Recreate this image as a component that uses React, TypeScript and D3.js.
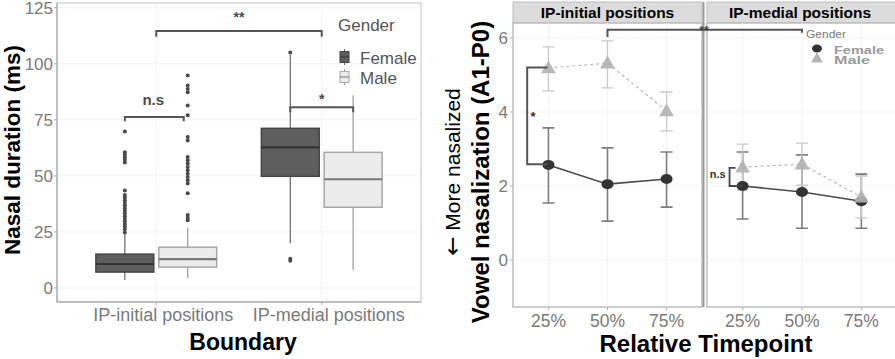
import React, { useEffect, useRef } from "react";
import * as d3 from "d3";

// ---- left panel: nasal duration boxplots ----
const boundaries = ["IP-initial positions", "IP-medial positions"];
const genders = ["Female", "Male"];
const durationTicks = [0, 25, 50, 75, 100, 125];

type Box = { lower: number; q1: number; median: number; q3: number; upper: number };

const femaleBoxes: Box[] = [
  { lower: 3.6, q1: 7.1, median: 10.7, q3: 15.1, upper: 24 },
  { lower: 20, q1: 49.8, median: 62.7, q3: 71.2, upper: 104 },
];
const maleBoxes: Box[] = [
  { lower: 4.4, q1: 9.3, median: 12.9, q3: 18.2, upper: 27 },
  { lower: 8, q1: 36, median: 48.5, q3: 60.5, upper: 86 },
];
const femaleOutliers = [
  [24.8, 26.2, 27.4, 28.5, 29.6, 30.8, 32, 33.2, 34.4, 35.6, 36.8, 37.9, 39.1, 40.3, 41.5, 43.5, 56, 57.2, 58.3, 59.4, 60.5, 69.8],
  [12.2, 13, 105],
];
const maleOutliers = [
  [30.2, 31.3, 32.5, 42.2, 46.6, 48, 49.5, 51, 52.5, 54, 55.5, 57, 58.4, 65.8, 67.3, 77, 81.4, 87.3, 88.8, 90.3, 94.8],
  [],
];

// ---- right panel: vowel nasalization by timepoint ----
const facets = ["IP-initial positions", "IP-medial positions"];
const timepoints = ["25%", "50%", "75%"];
const nasalTicks = [0, 2, 4, 6];

const femaleMean = [[2.57, 2.05, 2.19], [2.0, 1.84, 1.59]];
const femaleLow = [[1.54, 1.05, 1.43], [1.11, 0.86, 0.86]];
const femaleHigh = [[3.57, 3.03, 2.92], [2.92, 2.84, 2.32]];
const maleMean = [[5.19, 5.32, 4.03], [2.51, 2.59, 1.7]];
const maleLow = [[4.57, 4.65, 3.49], [1.89, 2.02, 1.14]];
const maleHigh = [[5.76, 5.92, 4.54], [3.13, 3.16, 2.27]];

const FONT = "'Liberation Sans', Arial, sans-serif";

const App: React.FC = () => {
  const svgRef = useRef<SVGSVGElement | null>(null);

  useEffect(() => {
    const width = 895;
    const height = 359;
    const svg = d3
      .select(svgRef.current)
      .attr("width", width)
      .attr("height", height)
      .attr("viewBox", `0 0 ${width} ${height}`)
      .style("font-family", FONT);
    svg.selectAll("*").remove();

    // ================= LEFT PANEL =================
    const L = { left: 57, right: 421, top: 3, bottom: 302 };
    const yL = d3.scaleLinear().domain([-6.25, 127.1]).range([L.bottom, L.top]);
    const xL = d3.scaleLinear().domain([0.4, 2.6]).range([L.left, L.right]);
    const dodge = 0.19;
    const halfBox = 0.175;

    const left = svg.append("g");
    left
      .append("rect")
      .attr("x", L.left)
      .attr("y", L.top)
      .attr("width", L.right - L.left)
      .attr("height", L.bottom - L.top)
      .attr("fill", "#fff")
      .attr("stroke", "#d6d6d6")
      .attr("stroke-width", 1.5);

    // faint grid
    left
      .selectAll("line.grid")
      .data(durationTicks)
      .join("line")
      .attr("x1", L.left)
      .attr("x2", L.right)
      .attr("y1", (d) => yL(d))
      .attr("y2", (d) => yL(d))
      .attr("stroke", "#f3f3f3");
    left
      .selectAll("line.gridx")
      .data(boundaries)
      .join("line")
      .attr("x1", (_, i) => xL(i + 1))
      .attr("x2", (_, i) => xL(i + 1))
      .attr("y1", L.top)
      .attr("y2", L.bottom)
      .attr("stroke", "#f3f3f3");

    // axes lines
    left
      .append("line")
      .attr("x1", L.left)
      .attr("x2", L.left)
      .attr("y1", L.top)
      .attr("y2", L.bottom)
      .attr("stroke", "#b5b5b5")
      .attr("stroke-width", 1.5);
    left
      .append("line")
      .attr("x1", L.left)
      .attr("x2", L.right)
      .attr("y1", L.bottom)
      .attr("y2", L.bottom)
      .attr("stroke", "#b5b5b5")
      .attr("stroke-width", 1.5);

    durationTicks.forEach((t) => {
      left
        .append("line")
        .attr("x1", L.left - 3)
        .attr("x2", L.left)
        .attr("y1", yL(t))
        .attr("y2", yL(t))
        .attr("stroke", "#aaa");
      left
        .append("text")
        .attr("x", L.left - 4)
        .attr("y", yL(t))
        .attr("dy", "0.36em")
        .attr("text-anchor", "end")
        .attr("fill", "#7a7a7a")
        .style("font-size", "17px")
        .text(t);
    });
    boundaries.forEach((b, i) => {
      left
        .append("line")
        .attr("x1", xL(i + 1))
        .attr("x2", xL(i + 1))
        .attr("y1", L.bottom)
        .attr("y2", L.bottom + 3)
        .attr("stroke", "#aaa");
      left
        .append("text")
        .attr("x", xL(i + 1) + 7)
        .attr("y", 321)
        .attr("text-anchor", "middle")
        .attr("fill", "#7a7a7a")
        .style("font-size", "18px")
        .text(b);
    });

    const boxStyle = [
      { fill: "#5e5e5e", stroke: "#474747", whisker: "#666", median: "#333" },
      { fill: "#ececec", stroke: "#a8a8a8", whisker: "#9a9a9a", median: "#777" },
    ];
    [femaleBoxes, maleBoxes].forEach((boxes, g) => {
      const off = g === 0 ? -dodge : dodge;
      const st = boxStyle[g];
      boxes.forEach((b, i) => {
        const cx = xL(i + 1 + off);
        const x0 = xL(i + 1 + off - halfBox);
        const x1 = xL(i + 1 + off + halfBox);
        left
          .append("line")
          .attr("x1", cx)
          .attr("x2", cx)
          .attr("y1", yL(b.lower))
          .attr("y2", yL(b.upper))
          .attr("stroke", st.whisker)
          .attr("stroke-width", 1.2);
        left
          .append("rect")
          .attr("x", x0)
          .attr("width", x1 - x0)
          .attr("y", yL(b.q3))
          .attr("height", yL(b.q1) - yL(b.q3))
          .attr("fill", st.fill)
          .attr("stroke", st.stroke)
          .attr("stroke-width", 1.5);
        left
          .append("line")
          .attr("x1", x0)
          .attr("x2", x1)
          .attr("y1", yL(b.median))
          .attr("y2", yL(b.median))
          .attr("stroke", st.median)
          .attr("stroke-width", 2.2);
      });
    });
    [femaleOutliers, maleOutliers].forEach((sets, g) => {
      const off = g === 0 ? -dodge : dodge;
      sets.forEach((vals, i) => {
        left
          .selectAll(null)
          .data(vals)
          .join("circle")
          .attr("cx", xL(i + 1 + off))
          .attr("cy", (d) => yL(d))
          .attr("r", 2)
          .attr("fill", "#4a4a4a");
      });
    });

    // significance brackets
    const bracket = (
      g: d3.Selection<SVGGElement, unknown, null, undefined>,
      xa: number,
      xb: number,
      yTop: number,
      yEndA: number,
      yEndB: number
    ) => {
      g.append("path")
        .attr("d", `M${xa},${yEndA}V${yTop}H${xb}V${yEndB}`)
        .attr("fill", "none")
        .attr("stroke", "#555")
        .attr("stroke-width", 2);
    };
    const sigText = (
      g: d3.Selection<SVGGElement, unknown, null, undefined>,
      x: number,
      y: number,
      s: string,
      size: number,
      color = "#4a4a4a"
    ) => {
      g.append("text")
        .attr("x", x)
        .attr("y", y)
        .attr("text-anchor", "middle")
        .attr("font-weight", "bold")
        .attr("fill", color)
        .style("font-size", `${size}px`)
        .text(s);
    };

    bracket(left, xL(1), xL(2), yL(114.6), yL(112), yL(112));
    sigText(left, (xL(1) + xL(2)) / 2, yL(114.6) - 9, "**", 14);
    bracket(left, xL(1 - dodge), xL(1 + dodge) - 4, yL(76.3), yL(74.4), yL(74.4));
    sigText(left, (xL(1 - dodge) + xL(1 + dodge)) / 2 - 3, yL(76.3) - 12, "n.s", 15);
    bracket(left, xL(2 - dodge), xL(2 + dodge), yL(80.6), yL(78.4), yL(78.4));
    sigText(left, xL(2), yL(80.6) - 3, "*", 14);

    // legend
    const leg = left.append("g");
    leg
      .append("text")
      .attr("x", 338)
      .attr("y", 31)
      .attr("fill", "#555")
      .style("font-size", "17px")
      .text("Gender");
    genders.forEach((gname, g) => {
      const cy = 57 + g * 20;
      const st = boxStyle[g];
      leg
        .append("line")
        .attr("x1", 344.5)
        .attr("x2", 344.5)
        .attr("y1", cy - 8)
        .attr("y2", cy + 8)
        .attr("stroke", st.whisker);
      leg
        .append("rect")
        .attr("x", 340)
        .attr("y", cy - 5.5)
        .attr("width", 9)
        .attr("height", 11)
        .attr("fill", st.fill)
        .attr("stroke", st.stroke);
      leg
        .append("line")
        .attr("x1", 340)
        .attr("x2", 349)
        .attr("y1", cy)
        .attr("y2", cy)
        .attr("stroke", st.median);
      leg
        .append("text")
        .attr("x", 360)
        .attr("y", cy + 7)
        .attr("fill", "#555")
        .style("font-size", "17px")
        .text(gname);
    });

    // titles
    svg
      .append("text")
      .attr("transform", `translate(20,150) rotate(-90)`)
      .attr("text-anchor", "middle")
      .attr("font-weight", "bold")
      .style("font-size", "22.5px")
      .text("Nasal duration (ms)");
    svg
      .append("text")
      .attr("x", 243)
      .attr("y", 350)
      .attr("text-anchor", "middle")
      .attr("font-weight", "bold")
      .style("font-size", "23px")
      .text("Boundary");

    // ================= RIGHT PANEL =================
    const R = { top: 23, bottom: 307, stripTop: 2 };
    const yR = d3.scaleLinear().domain([-1.27, 6.405]).range([R.bottom, R.top]);
    const facetRanges: [number, number][] = [
      [513, 702],
      [707, 897],
    ];
    const right = svg.append("g");
    const xRs = facetRanges.map((r) => d3.scaleLinear().domain([0.4, 3.6]).range(r));

    facets.forEach((f, k) => {
      const [x0, x1] = facetRanges[k];
      const xR = xRs[k];
      right
        .append("rect")
        .attr("x", x0)
        .attr("y", R.stripTop)
        .attr("width", x1 - x0)
        .attr("height", R.top - R.stripTop)
        .attr("fill", "#dcdcdc")
        .attr("stroke", "#bdbdbd");
      right
        .append("text")
        .attr("x", (x0 + Math.min(x1, 893)) / 2)
        .attr("y", 18)
        .attr("text-anchor", "middle")
        .attr("font-weight", "bold")
        .style("font-size", "15.5px")
        .text(f);
      right
        .append("rect")
        .attr("x", x0)
        .attr("y", R.top)
        .attr("width", x1 - x0)
        .attr("height", R.bottom - R.top)
        .attr("fill", "#fff")
        .attr("stroke", "#bdbdbd")
        .attr("stroke-width", 1.5);
      nasalTicks.forEach((t) => {
        right
          .append("line")
          .attr("x1", x0)
          .attr("x2", x1)
          .attr("y1", yR(t))
          .attr("y2", yR(t))
          .attr("stroke", "#f3f3f3");
      });
      timepoints.forEach((tp, i) => {
        right
          .append("line")
          .attr("x1", xR(i + 1))
          .attr("x2", xR(i + 1))
          .attr("y1", R.top)
          .attr("y2", R.bottom)
          .attr("stroke", "#f3f3f3");
        right
          .append("line")
          .attr("x1", xR(i + 1))
          .attr("x2", xR(i + 1))
          .attr("y1", R.bottom)
          .attr("y2", R.bottom + 3)
          .attr("stroke", "#aaa");
        right
          .append("text")
          .attr("x", xR(i + 1))
          .attr("y", 327)
          .attr("text-anchor", "middle")
          .attr("fill", "#7a7a7a")
          .style("font-size", "17.5px")
          .text(tp);
      });
    });
    // divider between facets
    right
      .append("line")
      .attr("x1", 703.5)
      .attr("x2", 703.5)
      .attr("y1", R.stripTop)
      .attr("y2", R.bottom)
      .attr("stroke", "#9a9a9a")
      .attr("stroke-width", 2);

    nasalTicks.forEach((t) => {
      right
        .append("line")
        .attr("x1", 510)
        .attr("x2", 513)
        .attr("y1", yR(t))
        .attr("y2", yR(t))
        .attr("stroke", "#aaa");
      right
        .append("text")
        .attr("x", 508)
        .attr("y", yR(t))
        .attr("dy", "0.36em")
        .attr("text-anchor", "end")
        .attr("fill", "#7a7a7a")
        .style("font-size", "17px")
        .text(t);
    });

    const series = [
      { mean: femaleMean, low: femaleLow, high: femaleHigh, line: "#4a4a4a", dash: null, err: "#7d7d7d", errW: 1.6, pt: "#333" },
      { mean: maleMean, low: maleLow, high: maleHigh, line: "#b8b8b8", dash: "3,3", err: "#c9c9c9", errW: 1.3, pt: "#b3b3b3" },
    ];

    // error bars
    series.forEach((s) => {
      facets.forEach((_, k) => {
        const xR = xRs[k];
        timepoints.forEach((_, i) => {
          const cx = xR(i + 1);
          right
            .append("path")
            .attr(
              "d",
              `M${cx},${yR(s.low[k][i])}V${yR(s.high[k][i])}` +
                `M${cx - 6},${yR(s.low[k][i])}H${cx + 6}` +
                `M${cx - 6},${yR(s.high[k][i])}H${cx + 6}`
            )
            .attr("fill", "none")
            .attr("stroke", s.err)
            .attr("stroke-width", s.errW);
        });
      });
    });

    // lines + points
    series.forEach((s, g) => {
      facets.forEach((_, k) => {
        const xR = xRs[k];
        const line = d3
          .line<number>()
          .x((_, i) => xR(i + 1))
          .y((d) => yR(d));
        const p = right
          .append("path")
          .datum(s.mean[k])
          .attr("d", line)
          .attr("fill", "none")
          .attr("stroke", s.line)
          .attr("stroke-width", g === 0 ? 1.6 : 1.2);
        if (s.dash) p.attr("stroke-dasharray", s.dash);
        s.mean[k].forEach((v, i) => {
          if (g === 0) {
            right
              .append("ellipse")
              .attr("cx", xR(i + 1))
              .attr("cy", yR(v))
              .attr("rx", 6)
              .attr("ry", 5)
              .attr("fill", s.pt);
          } else {
            right
              .append("path")
              .attr("transform", `translate(${xR(i + 1)},${yR(v) + 1})`)
              .attr("d", d3.symbol(d3.symbolTriangle, 95)())
              .attr("fill", s.pt)
              .attr("opacity", 0.92);
          }
        });
      });
    });

    // right significance brackets
    const xa = xRs[0];
    const xb = xRs[1];
    right
      .append("path")
      .attr("d", `M${xa(1) - 1},${yR(5.2)}H${xa(0.64)}V${yR(2.59)}H${xa(1) - 1}`)
      .attr("fill", "none")
      .attr("stroke", "#555")
      .attr("stroke-width", 2);
    sigText(right, xa(0.74), yR(3.95) + 7, "*", 13, "#333");

    bracket(right, xa(2), xb(2), yR(6.22), yR(6.03), yR(6.14));
    sigText(right, 704, yR(6.22) + 5, "**", 12, "#444");

    right
      .append("path")
      .attr("d", `M${xb(0.88)},${yR(2.49)}H${xb(0.78)}V${yR(2.0)}H${xb(1)}`)
      .attr("fill", "none")
      .attr("stroke", "#444")
      .attr("stroke-width", 1.8);
    sigText(right, xb(0.58), yR(2.32) + 4, "n.s", 11, "#333");

    // right legend
    right
      .append("text")
      .attr("x", 806)
      .attr("y", 38)
      .attr("fill", "#7a7a7a")
      .attr("textLength", 40)
      .attr("lengthAdjust", "spacingAndGlyphs")
      .style("font-size", "10.5px")
      .text("Gender");
    right
      .append("ellipse")
      .attr("cx", 817)
      .attr("cy", 48.5)
      .attr("rx", 5)
      .attr("ry", 4)
      .attr("fill", "#333");
    right
      .append("path")
      .attr("transform", `translate(817,59)`)
      .attr("d", d3.symbol(d3.symbolTriangle, 60)())
      .attr("fill", "#b3b3b3");
    [
      ["Female", 53.5, 50],
      ["Male", 64, 36],
    ].forEach(([t, y, len]) => {
      right
        .append("text")
        .attr("x", 834)
        .attr("y", y as number)
        .attr("fill", "#9a9a9a")
        .attr("font-weight", "bold")
        .attr("textLength", len as number)
        .attr("lengthAdjust", "spacingAndGlyphs")
        .style("font-size", "10px")
        .text(t as string);
    });

    // right titles
    svg
      .append("text")
      .attr("transform", `translate(489,172) rotate(-90)`)
      .attr("text-anchor", "middle")
      .attr("font-weight", "bold")
      .style("font-size", "24px")
      .text("Vowel nasalization (A1-P0)");
    const more = svg
      .append("text")
      .attr("transform", `translate(460,172) rotate(-90)`)
      .attr("text-anchor", "middle")
      .style("font-size", "21px");
    more
      .append("tspan")
      .style("font-family", "'DejaVu Sans', sans-serif")
      .style("font-size", "23px")
      .text("\u2190");
    more.append("tspan").text(" More nasalized");
    svg
      .append("text")
      .attr("x", 706)
      .attr("y", 352)
      .attr("text-anchor", "middle")
      .attr("font-weight", "bold")
      .style("font-size", "24px")
      .text("Relative Timepoint");
  }, []);

  return (
    <div style={{ position: "absolute", left: 0, top: 0, background: "#fff" }}>
      <svg ref={svgRef} style={{ display: "block" }} />
    </div>
  );
};

export default App;
